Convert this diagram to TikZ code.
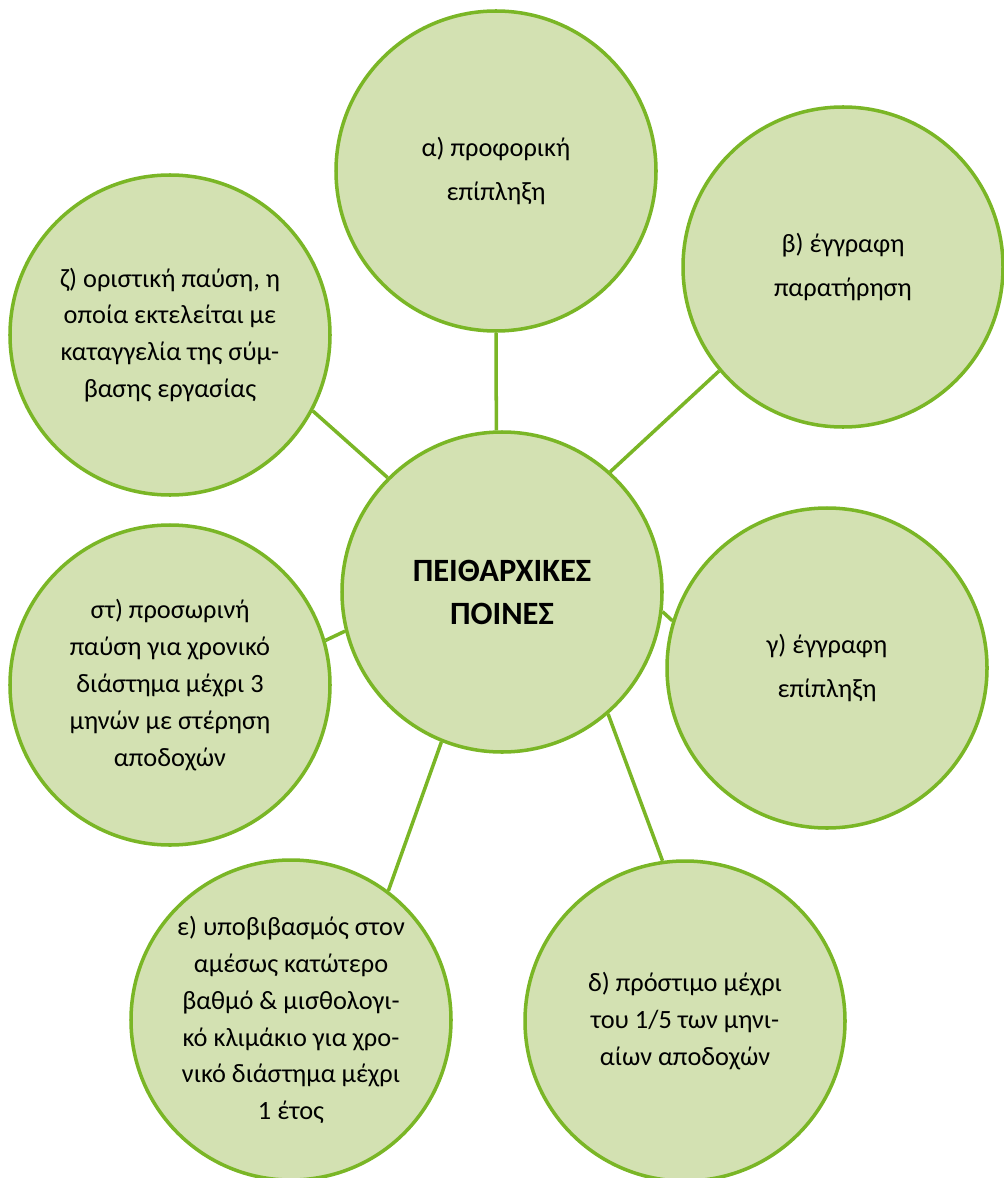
\documentclass[tikz,border=0pt]{standalone}
\usepackage{xcolor}
\usepackage{fontspec}
\setmainfont{Carlito}
\usepackage{tikz}

\definecolor{leafgreen}{RGB}{211,225,178}
\definecolor{stemgreen}{RGB}{122,182,38}

\begin{document}
\begin{tikzpicture}[
    penalty/.style={circle, draw=stemgreen, line width=2pt, fill=leafgreen, minimum size=6.4cm, inner sep=0pt, align=center, font=\fontsize{15}{21}\selectfont},
    penaltywide/.style={penalty, font=\fontsize{15}{25}\selectfont},
    hub/.style={penalty, font=\fontsize{18.5}{24.5}\selectfont\bfseries},
    spoke/.style={draw=stemgreen, line width=2pt}
]
\useasboundingbox (0,0) rectangle (20.06,-23.56);

% Centre
\node[hub] (poines) at (10.04, -11.84) {ΠΕΙΘΑΡΧΙΚΕΣ\\ΠΟΙΝΕΣ};

% Penalties
\node[penaltywide] (profor) at (9.92, -3.42) {α) προφορική\\επίπληξη};
\node[penaltywide] (paratir) at (16.86, -5.34) {β) έγγραφη\\παρατήρηση};
\node[penaltywide] (epipl) at (16.54, -13.36) {γ) έγγραφη\\επίπληξη};
\node[penalty] (prostimo) at (13.70, -20.42) {δ) πρόστιμο μέχρι\\του 1/5 των μηνι-\\αίων αποδοχών};
\node[penalty] (ypobib) at (5.82, -20.40) {ε) υποβιβασμός στον\\αμέσως κατώτερο\\βαθμό \& μισθολογι-\\κό κλιμάκιο για χρο-\\νικό διάστημα μέχρι\\1 έτος};
\node[penalty] (prosor) at (3.40, -13.70) {στ) προσωρινή\\παύση για χρονικό\\διάστημα μέχρι 3\\μηνών με στέρηση\\αποδοχών};
\node[penalty] (oristiki) at (3.40, -6.70) {ζ) οριστική παύση, η\\οποία εκτελείται με\\καταγγελία της σύμ-\\βασης εργασίας};

% Spokes
\draw[spoke] (poines.92) -- (profor.270);
\draw[spoke] (poines.48) -- (paratir.220);
\draw[spoke] (poines.-7) -- (epipl.163);
\draw[spoke] (poines.-49) -- (prostimo.98);
\draw[spoke] (poines.248) -- (ypobib.53);
\draw[spoke] (poines.194) -- (prosor.16);
\draw[spoke] (poines.135) -- (oristiki.-28);

\end{tikzpicture}
\end{document}
